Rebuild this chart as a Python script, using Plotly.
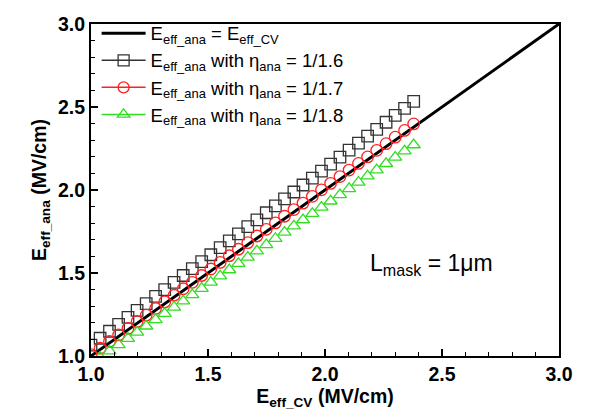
import plotly.graph_objects as go

# Data
x_cv = [1.000, 1.039, 1.079, 1.118, 1.158, 1.197, 1.236, 1.276, 1.315, 1.355,
        1.394, 1.433, 1.473, 1.512, 1.552, 1.591, 1.630, 1.670, 1.709, 1.749,
        1.788, 1.827, 1.867, 1.906, 1.946, 1.985, 2.024, 2.064, 2.103, 2.143,
        2.182, 2.221, 2.261, 2.300, 2.340, 2.379]
y_16 = [1.065, 1.107, 1.149, 1.191, 1.233, 1.275, 1.316, 1.359, 1.400, 1.443,
        1.485, 1.526, 1.569, 1.610, 1.653, 1.694, 1.736, 1.779, 1.820, 1.863,
        1.904, 1.946, 1.988, 2.030, 2.072, 2.114, 2.156, 2.198, 2.240, 2.282,
        2.324, 2.365, 2.408, 2.450, 2.492, 2.534]
y_17 = [1.008, 1.047, 1.088, 1.127, 1.167, 1.207, 1.246, 1.286, 1.326, 1.366,
        1.405, 1.444, 1.485, 1.524, 1.564, 1.604, 1.643, 1.683, 1.723, 1.763,
        1.802, 1.842, 1.882, 1.921, 1.962, 2.001, 2.040, 2.081, 2.120, 2.160,
        2.199, 2.239, 2.279, 2.318, 2.359, 2.398]
y_18 = [0.955, 0.992, 1.030, 1.068, 1.106, 1.143, 1.180, 1.219, 1.256, 1.294,
        1.331, 1.369, 1.407, 1.444, 1.482, 1.519, 1.557, 1.595, 1.632, 1.670,
        1.708, 1.745, 1.783, 1.820, 1.858, 1.896, 1.933, 1.971, 2.008, 2.047,
        2.084, 2.121, 2.159, 2.197, 2.235, 2.272]
line_x = [1.0, 3.0]
line_y = [1.0, 3.0]

names = [
    "E<sub>eff_ana</sub> = E<sub>eff_CV</sub>",
    "E<sub>eff_ana</sub> with η<sub>ana</sub> = 1/1.6",
    "E<sub>eff_ana</sub> with η<sub>ana</sub> = 1/1.7",
    "E<sub>eff_ana</sub> with η<sub>ana</sub> = 1/1.8",
]

FONT = "Liberation Sans, Arial, sans-serif"
fig = go.Figure()

fig.add_trace(go.Scatter(x=line_x, y=line_y, mode="lines",
                         line=dict(color="black", width=3), name=names[0]))

series = [
    (y_16, "square-open", "#333333", names[1]),
    (y_17, "circle-open", "#ff2020", names[2]),
    (y_18, "triangle-up-open", "#33dd22", names[3]),
]
for ys, sym, col, nm in series:
    fig.add_trace(go.Scatter(x=x_cv, y=ys, mode="markers", showlegend=False,
                             marker=dict(symbol=sym, size=11.5, color=col,
                                         line=dict(color=col, width=1.3))))
for ys, sym, col, nm in series:
    fig.add_trace(go.Scatter(x=[None], y=[None], mode="lines+markers", name=nm,
                             line=dict(color=col, width=1.5),
                             marker=dict(symbol=sym, size=11, color=col,
                                         line=dict(color=col, width=1.3))))

axis_common = dict(
    range=[1.0, 3.0], dtick=0.5, tickformat=".1f",
    showline=True, linecolor="black", linewidth=2, mirror=True,
    ticks="inside", ticklen=7, tickwidth=1.5, tickcolor="black",
    minor=dict(ticks="inside", ticklen=4, tickwidth=1, dtick=0.1, tickcolor="black"),
    showgrid=False, zeroline=False, ticklabeloverflow="allow",
    tickfont=dict(family=FONT, size=19.5, color="black", weight="bold"),
)

fig.update_layout(
    width=581, height=411,
    margin=dict(l=83, r=30, t=5, b=63),
    paper_bgcolor="white", plot_bgcolor="white",
    font=dict(family=FONT, color="black"),
    xaxis=dict(axis_common,
               title=dict(text="E<sub>eff_CV</sub> (MV/cm)", standoff=2,
                          font=dict(family=FONT, size=19.5, color="black", weight="bold"))),
    yaxis=dict(axis_common,
               title=dict(text="E<sub>eff_ana</sub> (MV/cm)", standoff=6,
                          font=dict(family=FONT, size=19.5, color="black", weight="bold"))),
    legend=dict(x=0.012, y=1.028, xanchor="left", yanchor="top",
                bgcolor="rgba(0,0,0,0)", font=dict(family=FONT, size=18.5, color="black"),
                tracegroupgap=0, itemwidth=44),
    showlegend=True,
    annotations=[dict(x=0.863, y=0.277, xref="paper", yref="paper",
                      text="L<sub>mask</sub> = 1μm", showarrow=False,
                      xanchor="right", yanchor="middle",
                      font=dict(family=FONT, size=23, color="black"))],
)

fig.write_html("out.html")
